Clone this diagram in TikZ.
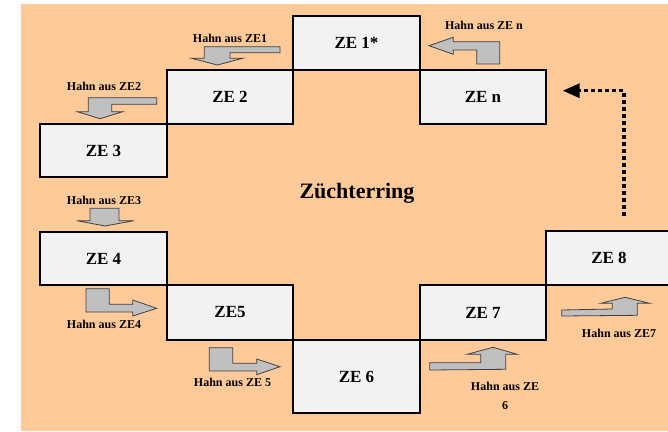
\documentclass[tikz,border=0pt]{standalone}
\usepackage{fontspec}
\setmainfont{Liberation Serif}
\usetikzlibrary{arrows.meta}
\definecolor{bgorange}{RGB}{255,202,153}
\definecolor{boxgray}{RGB}{242,242,242}
\definecolor{arrgray}{RGB}{192,192,192}
\definecolor{arredge}{RGB}{64,64,64}
\tikzset{
  zebox/.style={draw=black, line width=1.2pt, fill=boxgray, inner sep=0pt,
    font=\fontsize{17}{20}\selectfont\bfseries},
  hahn/.style={inner sep=0pt, font=\fontsize{12}{19}\selectfont\bfseries, align=center},
  blockarrow/.style={fill=arrgray, draw=arredge, line width=0.8pt, line join=miter},
  dotarrow/.style={line width=3.3pt, dash pattern=on 4pt off 3pt,
    -{Triangle[length=17pt,width=14pt]}}
}
\begin{document}
\begin{tikzpicture}[x=1pt,y=-1pt]
\useasboundingbox (0,0) rectangle (668,431);
\clip (0,0) rectangle (668,431);
\fill[white] (0,0) rectangle (668,431);
\fill[bgorange] (21,4) rectangle (668,431);

% boxes
\node[zebox, minimum width=127pt, minimum height=54pt] (z1) at (356.5,43) {ZE 1*};
\node[zebox, minimum width=126pt, minimum height=54pt] (z2) at (230,97) {ZE 2};
\node[zebox, minimum width=127pt, minimum height=53pt] (z3) at (103.5,150.5) {ZE 3};
\node[zebox, minimum width=126pt, minimum height=54pt] (zn) at (483,97) {ZE n};
\node[zebox, minimum width=127pt, minimum height=53pt] (z4) at (103.5,258.5) {ZE 4};
\node[zebox, minimum width=126pt, minimum height=55pt] (z5) at (230,312.5) {ZE5};
\node[zebox, minimum width=127pt, minimum height=73pt] (z6) at (356.5,376.5) {ZE 6};
\node[zebox, minimum width=126pt, minimum height=55pt] (z7) at (483,312.5) {ZE 7};
\node[zebox, minimum width=126pt, minimum height=54pt] (z8) at (609,258) {ZE 8};

% centre label
\node[font=\fontsize{22}{26}\selectfont\bfseries] (ring) at (357,193) {Züchterring};

% labels
\node[hahn] (h1) at (230,38) {Hahn aus ZE1};
\node[hahn] (h2) at (104,86) {Hahn aus ZE2};
\node[hahn] (h3) at (104,200) {Hahn aus ZE3};
\node[hahn] (hn) at (484,25) {Hahn aus ZE n};
\node[hahn] (h4) at (104,324) {Hahn aus ZE4};
\node[hahn] (h5) at (232.5,382) {Hahn aus ZE 5};
\node[hahn] (h6) at (505,396) {Hahn aus ZE\\6};
\node[hahn] (h7) at (619,333) {Hahn aus ZE7};

% block arrows
% ZE1 -> ZE2
\draw[blockarrow] (280,46.7) -- (204.3,46.7) -- (204.3,58.3) -- (191.7,58.3) -- (217.3,65)
  -- (242.7,58.3) -- (230,58.3) -- (230,52.7) -- (280,52.7) -- cycle;
% ZE2 -> ZE3
\draw[blockarrow] (156.7,97.7) -- (88.3,97.7) -- (88.3,111.7) -- (77.3,111.7) -- (100,118.7)
  -- (122.7,111.7) -- (111.7,111.7) -- (111.7,104.3) -- (156.7,104.3) -- cycle;
% ZE3 -> ZE4
\draw[blockarrow] (90,208.3) -- (119,208.3) -- (119,220.7) -- (134,220.7) -- (105,226)
  -- (76.7,220.7) -- (90,220.7) -- cycle;
% ZEn -> ZE1
\draw[blockarrow] (429,45.7) -- (453.3,37.3) -- (453.3,41.7) -- (499.7,41.7) -- (499.7,64)
  -- (476.7,64) -- (476.7,50) -- (453.3,50) -- (453.3,54.3) -- cycle;
% ZE4 -> ZE5
\draw[blockarrow] (86,288.7) -- (109.3,288.7) -- (109.3,304.3) -- (132.7,304.3) -- (132.7,300)
  -- (156.7,308.3) -- (132.7,316) -- (132.7,312) -- (86,312) -- cycle;
% ZE5 -> ZE6
\draw[blockarrow] (209.3,347.7) -- (232.7,347.7) -- (232.7,363.3) -- (256.7,363.3) -- (256.7,359)
  -- (280,366.7) -- (256.7,374.7) -- (256.7,371) -- (209.3,371) -- cycle;
% ZE6 -> ZE7
\draw[blockarrow] (429.7,362.7) -- (480.7,362.7) -- (480.7,354.3) -- (467.3,354.3) -- (493,347.3)
  -- (517.3,354.3) -- (505.7,354.3) -- (505.7,369.3) -- (429.7,370) -- cycle;
% ZE7 -> ZE8
\draw[blockarrow] (561.7,310) -- (612.3,309) -- (612.3,303.3) -- (600.7,303.3) -- (625,297.3)
  -- (649.7,303.3) -- (637.3,303.3) -- (637.3,315.3) -- (561.7,316) -- cycle;

% dotted return arrow
\coordinate (d0) at (624,216);
\coordinate (dEnd) at (562.7,90.7);
\draw[dotarrow] (d0) |- (dEnd);
\end{tikzpicture}
\end{document}
